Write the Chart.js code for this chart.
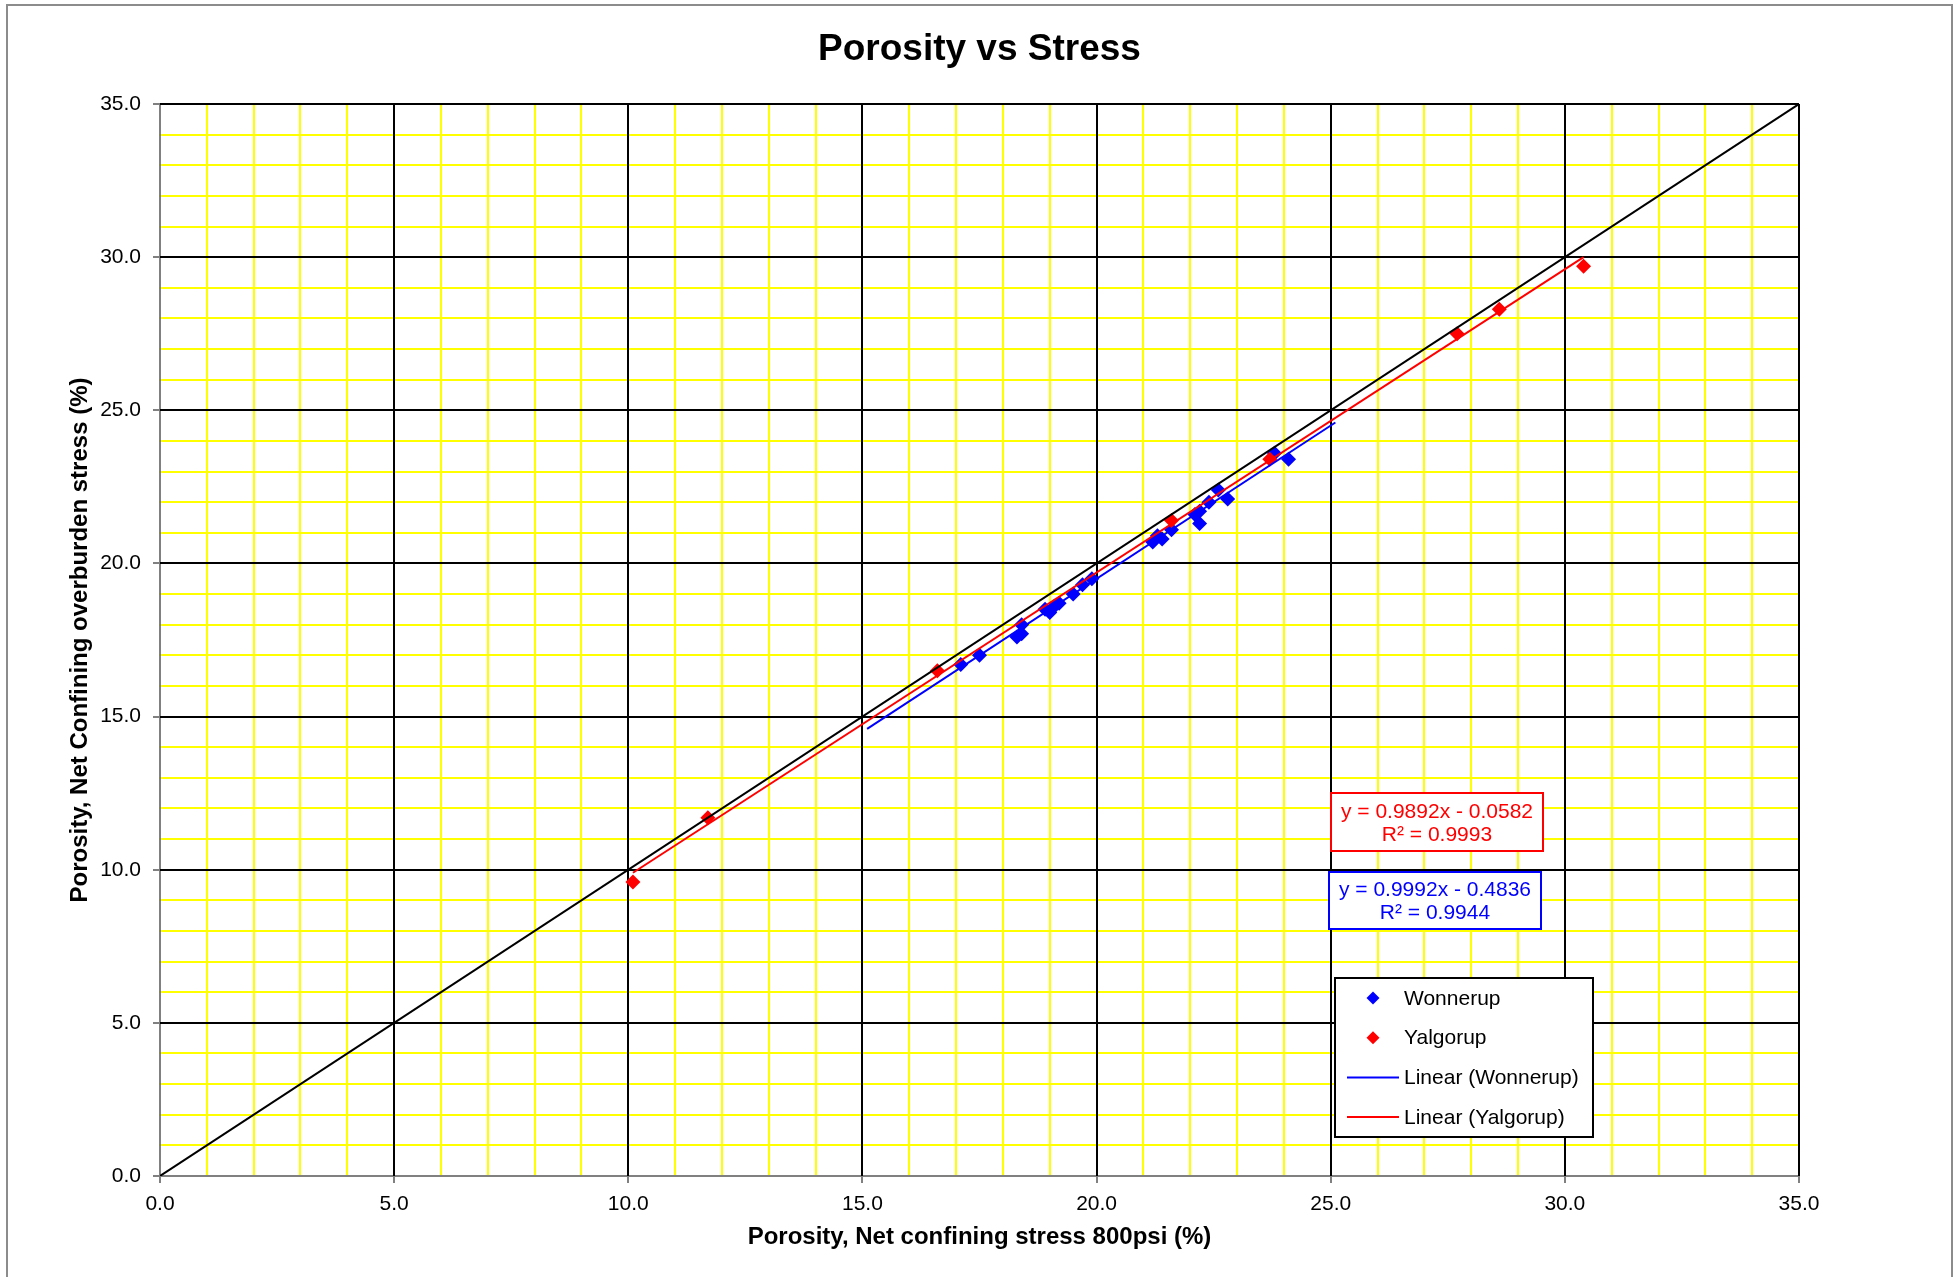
<!DOCTYPE html>
<html><head><meta charset="utf-8">
<script src="https://cdn.jsdelivr.net/npm/chart.js@4.4.1/dist/chart.umd.min.js"></script>
<style>html,body{margin:0;padding:0;background:#fff;overflow:hidden;} canvas{display:block;}</style>
</head><body>
<canvas id="c" width="1959" height="1277"></canvas>
<script>
// ---- data ----
const wonnerupX = [17.1, 17.5, 18.3, 18.4, 18.4, 18.9, 19.0, 19.1, 19.2, 19.5, 19.7, 19.9, 21.2, 21.3, 21.4, 21.6, 22.1, 22.2, 22.2, 22.4, 22.6, 22.8, 23.8, 24.1];
const wonnerupY = [16.7, 17.0, 17.6, 17.7, 18.0, 18.5, 18.4, 18.6, 18.7, 19.0, 19.3, 19.5, 20.7, 20.9, 20.8, 21.1, 21.6, 21.3, 21.7, 22.0, 22.4, 22.1, 23.6, 23.4];
const yalgorupX = [10.1, 11.7, 16.6, 21.6, 23.7, 27.7, 28.6, 30.4];
const yalgorupY = [9.6, 11.7, 16.5, 21.4, 23.4, 27.5, 28.3, 29.7];
const trendWonnerupX = [15.1, 25.1];
const trendWonnerupY = [14.6, 24.6];
const trendYalgorupX = [10.1, 30.4];
const trendYalgorupY = [9.9, 30.0];
const diagonalX = [0, 35];
const diagonalY = [0, 35];
const majorTicks = [0, 5, 10, 15, 20, 25, 30, 35];
const seriesLabels = ['Wonnerup', 'Yalgorup', 'Linear (Wonnerup)', 'Linear (Yalgorup)'];
const eqYalgorup = ['y = 0.9892x - 0.0582', 'R² = 0.9993'];
const eqWonnerup = ['y = 0.9992x - 0.4836', 'R² = 0.9944'];
const chartTitle = 'Porosity vs Stress';
const xTitle = 'Porosity, Net confining stress 800psi (%)';
const yTitle = 'Porosity, Net Confining overburden stress (%)';

const FONT = "'Liberation Sans', Arial, sans-serif";
const BLUE = '#0000ff', RED = '#ff0000', YELLOW = '#ffff00';
const toPts = (xs, ys) => xs.map((x, i) => ({x: x, y: ys[i]}));
const isMajor = v => majorTicks.includes(v);

const framePlugin = {
  id: 'frame',
  beforeDraw(chart) {
    const c = chart.ctx;
    c.save();
    c.fillStyle = '#fff';
    c.fillRect(0, 0, chart.width, chart.height);
    c.strokeStyle = '#8c8c8c';
    c.lineWidth = 2;
    c.strokeRect(7, 5, 1945, 1300);
    // chart title, centred on the whole chart
    c.fillStyle = '#000';
    c.font = 'bold 37px ' + FONT;
    c.textAlign = 'center'; c.textBaseline = 'alphabetic';
    c.fillText(chartTitle, chart.width / 2, 59.5);
    c.restore();
  },
  beforeDatasetsDraw(chart) {
    // black major grid lines over yellow minor ones
    const c = chart.ctx, a = chart.chartArea, xs = chart.scales.x, ys = chart.scales.y;
    c.save();
    c.strokeStyle = '#000';
    c.lineWidth = 2;
    majorTicks.forEach(v => {
      if (v === 0) return;
      const px = Math.round(xs.getPixelForValue(v));
      c.beginPath(); c.moveTo(px, a.top); c.lineTo(px, a.bottom); c.stroke();
      const py = Math.round(ys.getPixelForValue(v));
      c.beginPath(); c.moveTo(a.left, py); c.lineTo(a.right, py); c.stroke();
    });
    c.restore();
  },
  afterDraw(chart) {
    const c = chart.ctx;
    c.save();
    // equation boxes
    const box = (x0, y0, x1, y1, col, lines, cy) => {
      c.fillStyle = '#fff';
      c.fillRect(x0, y0, x1 - x0, y1 - y0);
      c.strokeStyle = col; c.lineWidth = 2;
      c.strokeRect(x0, y0, x1 - x0, y1 - y0);
      c.fillStyle = col;
      c.font = '21px ' + FONT;
      c.textAlign = 'center'; c.textBaseline = 'middle';
      lines.forEach((t, i) => c.fillText(t, (x0 + x1) / 2, cy + i * 23.5));
    };
    box(1331, 793, 1543, 851, RED, eqYalgorup, 812);
    box(1329, 872, 1541, 929, BLUE, eqWonnerup, 890);
    // legend
    const lx0 = 1335, ly0 = 978, lx1 = 1593, ly1 = 1137;
    c.fillStyle = '#fff';
    c.fillRect(lx0, ly0, lx1 - lx0, ly1 - ly0);
    c.strokeStyle = '#000'; c.lineWidth = 2;
    c.strokeRect(lx0, ly0, lx1 - lx0, ly1 - ly0);
    c.font = '21px ' + FONT;
    c.textAlign = 'left'; c.textBaseline = 'middle';
    const items = chart.data.datasets
      .filter(d => seriesLabels.includes(d.label))
      .sort((a, b) => seriesLabels.indexOf(a.label) - seriesLabels.indexOf(b.label));
    items.forEach((d, i) => {
      const y = 998 + i * 39.7;
      if (d.showLine) {
        c.strokeStyle = d.borderColor; c.lineWidth = 2;
        c.beginPath(); c.moveTo(1347, y); c.lineTo(1399, y); c.stroke();
      } else {
        const r = 6.5, x = 1373;
        c.fillStyle = d.backgroundColor;
        c.beginPath(); c.moveTo(x, y - r); c.lineTo(x + r, y); c.lineTo(x, y + r); c.lineTo(x - r, y); c.closePath(); c.fill();
      }
      c.fillStyle = '#000';
      c.fillText(d.label, 1404, y + 1);
    });
    c.restore();
  }
};

const gridColor = ctx => {
  const v = ctx.tick ? ctx.tick.value : null;
  if (v === 0) return '#808080';
  return isMajor(v) ? '#000' : YELLOW;
};
const tickColor = ctx => (ctx.tick && isMajor(ctx.tick.value)) ? '#808080' : 'rgba(0,0,0,0)';
const tickFmt = v => isMajor(v) ? Number(v).toFixed(1) : '';

new Chart(document.getElementById('c'), {
  type: 'scatter',
  data: {
    datasets: [
      {label: 'Diagonal', data: toPts(diagonalX, diagonalY), showLine: true, borderColor: '#000', borderWidth: 2, pointRadius: 0, fill: false, order: 0},
      {label: seriesLabels[2], data: toPts(trendWonnerupX, trendWonnerupY), showLine: true, borderColor: BLUE, backgroundColor: BLUE, borderWidth: 2, pointRadius: 0, fill: false, order: 1},
      {label: seriesLabels[3], data: toPts(trendYalgorupX, trendYalgorupY), showLine: true, borderColor: RED, backgroundColor: RED, borderWidth: 2, pointRadius: 0, fill: false, order: 1},
      {label: seriesLabels[0], data: toPts(wonnerupX, wonnerupY), showLine: false, pointStyle: 'rectRot', pointRadius: 7.5, backgroundColor: BLUE, borderColor: BLUE, borderWidth: 0, order: 3},
      {label: seriesLabels[1], data: toPts(yalgorupX, yalgorupY), showLine: false, pointStyle: 'rectRot', pointRadius: 7.5, backgroundColor: RED, borderColor: RED, borderWidth: 0, order: 2}
    ]
  },
  options: {
    responsive: false,
    animation: false,
    events: [],
    layout: {padding: {left: 10, right: 160, top: 104, bottom: 10}},
    plugins: {
      legend: {display: false},
      tooltip: {enabled: false},
      title: {display: false}
    },
    scales: {
      x: {
        type: 'linear', min: 0, max: 35,
        afterFit: s => { s.height = 91; },
        border: {color: '#808080', width: 2},
        grid: {color: gridColor, lineWidth: 2, tickColor: tickColor, tickLength: 7, tickWidth: 2},
        ticks: {stepSize: 1, autoSkip: false, maxRotation: 0, padding: 8.5, color: '#000', font: {family: FONT, size: 21}, callback: tickFmt},
        title: {display: true, text: xTitle, color: '#000', font: {family: FONT, size: 24, weight: 'bold'}, padding: {top: 0, bottom: 15.6}}
      },
      y: {
        type: 'linear', min: 0, max: 35,
        afterFit: s => { s.width = 150; },
        border: {color: '#808080', width: 2},
        grid: {color: gridColor, lineWidth: 2, tickColor: tickColor, tickLength: 7, tickWidth: 2},
        ticks: {stepSize: 1, autoSkip: false, padding: 12, color: '#000', font: {family: FONT, size: 21}, callback: tickFmt},
        title: {display: true, text: yTitle, color: '#000', font: {family: FONT, size: 24, weight: 'bold'}, padding: {top: 55.6, bottom: 0}}
      }
    }
  },
  plugins: [framePlugin]
});
</script>
</body></html>
